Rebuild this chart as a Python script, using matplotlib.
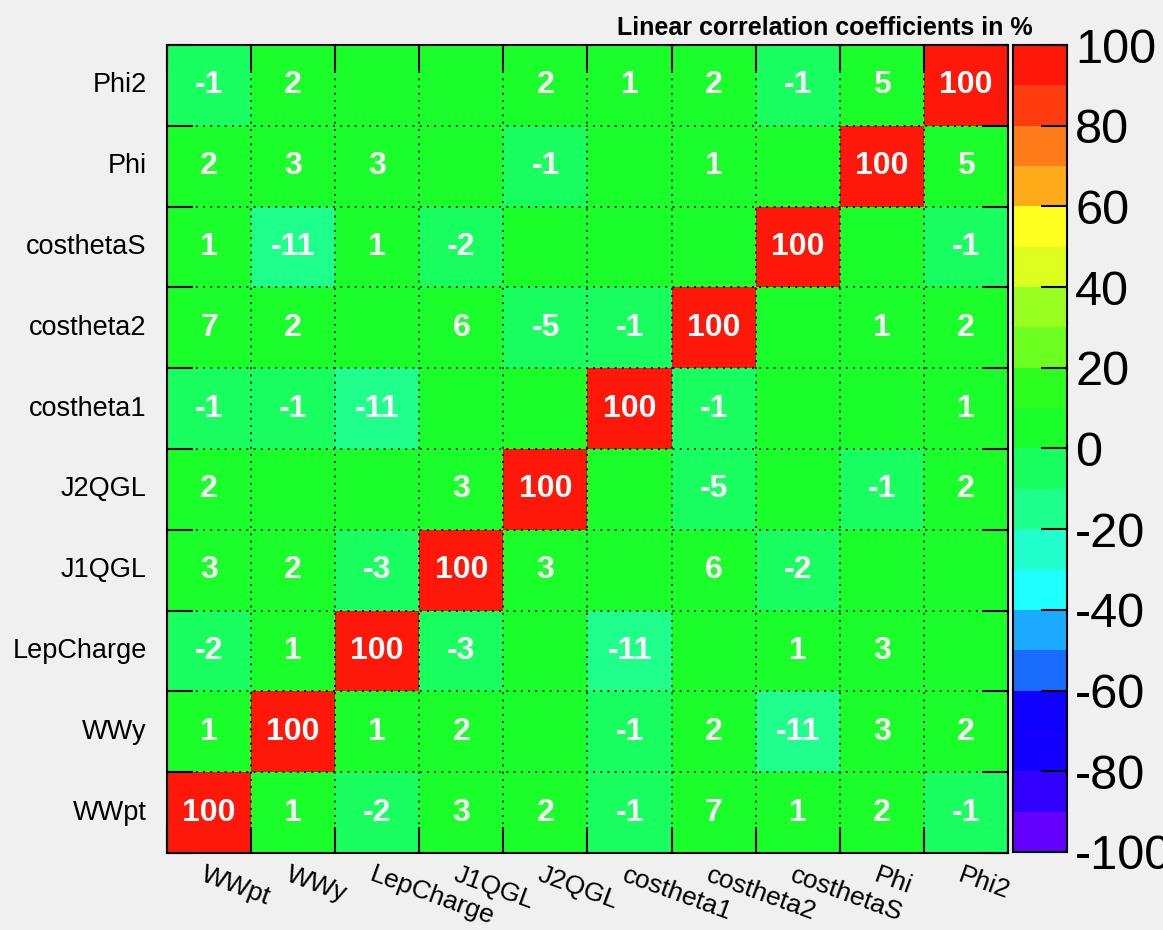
import numpy as np
import matplotlib.pyplot as plt
from matplotlib.colors import ListedColormap, BoundaryNorm

plt.rcParams['axes.unicode_minus'] = False

# variable names (bottom-to-top on y, left-to-right on x)
variables = ['WWpt', 'WWy', 'LepCharge', 'J1QGL', 'J2QGL',
             'costheta1', 'costheta2', 'costhetaS', 'Phi', 'Phi2']

# correlation matrix in %, rows listed from top (Phi2) to bottom (WWpt)
rows_top_down = [
    [-1, 2, 0, 0, 2, 1, 2, -1, 5, 100],      # Phi2
    [2, 3, 3, 0, -1, 0, 1, 0, 100, 5],       # Phi
    [1, -11, 1, -2, 0, 0, 0, 100, 0, -1],    # costhetaS
    [7, 2, 0, 6, -5, -1, 100, 0, 1, 2],      # costheta2
    [-1, -1, -11, 0, 0, 100, -1, 0, 0, 1],   # costheta1
    [2, 0, 0, 3, 100, 0, -5, 0, -1, 2],      # J2QGL
    [3, 2, -3, 100, 3, 0, 6, -2, 0, 0],      # J1QGL
    [-2, 1, 100, -3, 0, -11, 0, 1, 3, 0],    # LepCharge
    [1, 100, 1, 2, 0, -1, 2, -11, 3, 2],     # WWy
    [100, 1, -2, 3, 2, -1, 7, 1, 2, -1],     # WWpt
]
corr = np.array(rows_top_down[::-1])

# ROOT-style 20 level palette, from -100 up to 100
palette = ['#6400ff', '#3200ff', '#1400ff', '#0f00ff', '#1a6cff',
           '#1aaaff', '#1effff', '#20ffcc', '#1eff8c', '#18ff60',
           '#1aff2a', '#2cff20', '#6cff20', '#98ff20', '#dcff20',
           '#ffff20', '#ffaa18', '#ff7a18', '#ff3c10', '#ff180a']
cmap = ListedColormap(palette)
levels = np.linspace(-100, 100, 21)
norm = BoundaryNorm(levels, cmap.N)

bg = '#f0f0f0'
fig = plt.figure(figsize=(11.63, 9.3), dpi=100, facecolor=bg)
ax = fig.add_axes([0.1436, 0.0828, 0.7231, 0.8688])
cax = fig.add_axes([0.8710, 0.0839, 0.0464, 0.8677])

n = len(variables)
# shift value 0 slightly up so it falls in the [0,10) bin like ROOT
ax.pcolormesh(np.arange(n + 1), np.arange(n + 1), corr + 0.01,
              cmap=cmap, norm=norm, edgecolors='none')

for i in range(n):
    for j in range(n):
        v = corr[i, j]
        if v != 0:
            ax.text(j + 0.5, i + 0.5, f'{v:d}', ha='center', va='center',
                    color='white', fontsize=23, fontweight='bold',
                    family='Liberation Sans')

ax.set_xlim(0, n)
ax.set_ylim(0, n)
ax.set_xticks(np.arange(n + 1))
ax.set_yticks(np.arange(n + 1))
ax.set_xticklabels([])
ax.set_yticklabels([])
ax.tick_params(direction='in', length=19, width=1.5, top=True, right=True,
               color='black')
ax.grid(True, color='black', linestyle=(0, (1, 3)), linewidth=1.3)
for s in ax.spines.values():
    s.set_linewidth(1.5)

# labels
for k, name in enumerate(variables):
    ax.text(-0.24, k + 0.5, name, ha='right', va='center', fontsize=19.5,
            family='Liberation Sans')
    ax.text(k + 0.47, -0.12, name, ha='left', va='top', fontsize=19,
            rotation=-20, rotation_mode='anchor', family='Liberation Sans')

fig.text(0.888, 0.962, 'Linear correlation coefficients in %', ha='right',
         va='baseline', fontsize=18, fontweight='bold', family='Liberation Sans')

# color bar
cax.pcolormesh([0, 1], levels, levels[:-1, None] + 5, cmap=cmap, norm=norm)
cax.set_xlim(0, 1)
cax.set_ylim(-100, 100)
cax.set_xticks([])
cax.set_yticks(np.arange(-100, 101, 20))
cax.yaxis.tick_right()
cax.tick_params(axis='y', direction='in', length=19, width=1.5, labelsize=35,
                pad=6)
for lab in cax.get_yticklabels():
    lab.set_family('Liberation Sans')
for s in cax.spines.values():
    s.set_linewidth(1.5)

fig.savefig('out.png', dpi=100, facecolor=bg)
